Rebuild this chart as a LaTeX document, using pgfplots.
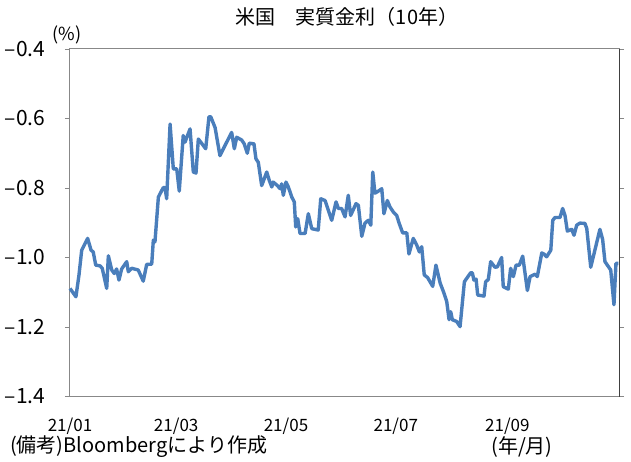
\documentclass[border=0pt]{standalone}
\usepackage{fontspec}
\setmainfont{Noto Sans CJK JP}
\usepackage{pgfplots}
\pgfplotsset{compat=1.18}
\definecolor{linecol}{HTML}{4A7EBB}
\definecolor{axgray}{HTML}{888888}
\begin{document}
\begin{tikzpicture}[x=1pt,y=1pt]
\useasboundingbox (-70,-64.5) rectangle (561,396.5);
\begin{axis}[
  at={(0,0)}, anchor=south west,
  scale only axis, width=549pt, height=347.5pt,
  xmin=0, xmax=305, ymin=-1.4, ymax=-0.4,
  xtick={0,59,120,181,243},
  xticklabels={21/01,21/03,21/05,21/07,21/09},
  ytick={-1.4,-1.2,-1.0,-0.8,-0.6,-0.4},
  yticklabels={–1.4,–1.2,–1.0,–0.8,–0.6,–0.4},
  axis line style={axgray, line width=1pt},
  x tick style={draw=none},
  y tick style={axgray, line width=0.8pt},
  tick align=outside, major tick length=5pt,
  xticklabel style={font=\fontsize{17}{17}\selectfont, anchor=center, yshift=-24.5pt},
  yticklabel style={font=\fontsize{21}{21}\selectfont, anchor=center, xshift=-40pt},
  clip=false,
]
\addplot[linecol, line width=3.4pt, line join=round] coordinates {
(0,-1.089) (3.3,-1.113) (5,-1.050) (6.5,-0.979) (9.8,-0.945) (11.7,-0.979) (12.9,-0.984) (14.3,-1.022) (16.7,-1.024) (17.9,-1.031) (20.4,-1.089) (21.3,-0.995) (23.2,-1.036) (24.6,-1.046) (25.9,-1.033) (27.2,-1.065) (28.7,-1.033) (31.5,-1.012) (32.4,-1.041) (34.3,-1.031) (37.9,-1.036) (40.7,-1.068) (42.6,-1.020) (45.4,-1.019) (46.3,-0.950) (47.2,-0.955) (49.1,-0.826) (51.8,-0.799) (52.8,-0.799) (53.7,-0.831) (55.6,-0.616) (57.4,-0.745) (59.3,-0.745) (60.7,-0.809) (62.9,-0.649) (63.9,-0.668) (66.7,-0.630) (68.5,-0.754) (70,-0.757) (71.3,-0.659) (74.1,-0.678) (75.4,-0.687) (77.2,-0.595) (78.2,-0.595) (80.6,-0.626) (83.3,-0.707) (85.2,-0.687) (89.8,-0.640) (91.3,-0.687) (92.6,-0.654) (95.4,-0.662) (96.8,-0.673) (98.5,-0.700) (99.6,-0.671) (102.2,-0.673) (103.3,-0.716) (104.6,-0.726) (106.5,-0.793) (109.3,-0.754) (110.7,-0.778) (112.1,-0.797) (112.9,-0.783) (115.2,-0.793) (116.7,-0.802) (117.6,-0.788) (118.5,-0.821) (120,-0.783) (121.3,-0.797) (123.2,-0.826) (124.6,-0.840) (125.4,-0.912) (126.5,-0.888) (127.8,-0.931) (130.6,-0.931) (132.4,-0.874) (134.3,-0.917) (137.9,-0.921) (139.3,-0.831) (141.7,-0.836) (145.4,-0.893) (147.8,-0.840) (149.1,-0.859) (150.9,-0.859) (152.8,-0.883) (154.6,-0.821) (155.9,-0.879) (158.9,-0.845) (160.2,-0.850) (162.1,-0.939) (163.9,-0.901) (165.7,-0.893) (167.1,-0.907) (168.2,-0.754) (169.4,-0.815) (171.3,-0.809) (173.2,-0.802) (174.4,-0.874) (176.3,-0.836) (177.8,-0.855) (179.6,-0.869) (181.5,-0.879) (182.9,-0.902) (184.8,-0.929) (187.1,-0.929) (188.3,-0.990) (190.7,-0.945) (192.6,-0.964) (194.1,-0.984) (195.4,-0.969) (196.8,-1.050) (198.7,-1.058) (201.5,-1.083) (203.3,-1.022) (205.6,-1.073) (207.8,-1.103) (209.3,-1.127) (210.6,-1.179) (211.5,-1.156) (212.4,-1.179) (214.8,-1.184) (216.7,-1.199) (219.1,-1.070) (220.4,-1.060) (222.6,-1.044) (223.5,-1.044) (224.4,-1.065) (225.6,-1.062) (226.5,-1.108) (230,-1.111) (230.9,-1.070) (232.4,-1.063) (233.7,-1.012) (236.1,-1.028) (237.4,-1.027) (239.8,-1.000) (240.7,-1.084) (243.5,-1.091) (244.8,-1.031) (246.3,-1.055) (247.8,-1.022) (249.6,-1.022) (251.5,-0.996) (254.1,-1.095) (255.6,-1.055) (258.3,-1.048) (259.6,-1.055) (262.1,-0.987) (263.3,-0.990) (264.8,-0.998) (267.1,-0.979) (268.2,-0.893) (269.4,-0.885) (272.2,-0.885) (273.7,-0.859) (275,-0.879) (276.3,-0.924) (278.7,-0.919) (280,-0.936) (281.5,-0.907) (283.3,-0.901) (286.1,-0.902) (287.1,-0.917) (289.3,-1.028) (290.7,-0.998) (294.4,-0.919) (295.9,-0.948) (297.2,-1.012) (300.4,-1.036) (302.2,-1.136) (303.3,-1.017) (304.6,-1.017)
};
\draw[black!75, line width=1pt] (rel axis cs:1,0) -- (rel axis cs:1,1);
\end{axis}
\node[font=\fontsize{20}{20}\selectfont] at (277,379.5) {米国　実質金利（10年）};
\node[font=\fontsize{18}{18}\selectfont] at (-3,362) {(\%)};
\node[font=\fontsize{20}{20}\selectfont, anchor=west, inner sep=0pt] at (-60,-50.5) {(備考)Bloombergにより作成};
\node[font=\fontsize{20}{20}\selectfont] at (452,-50.5) {(年/月)};
\end{tikzpicture}
\end{document}
